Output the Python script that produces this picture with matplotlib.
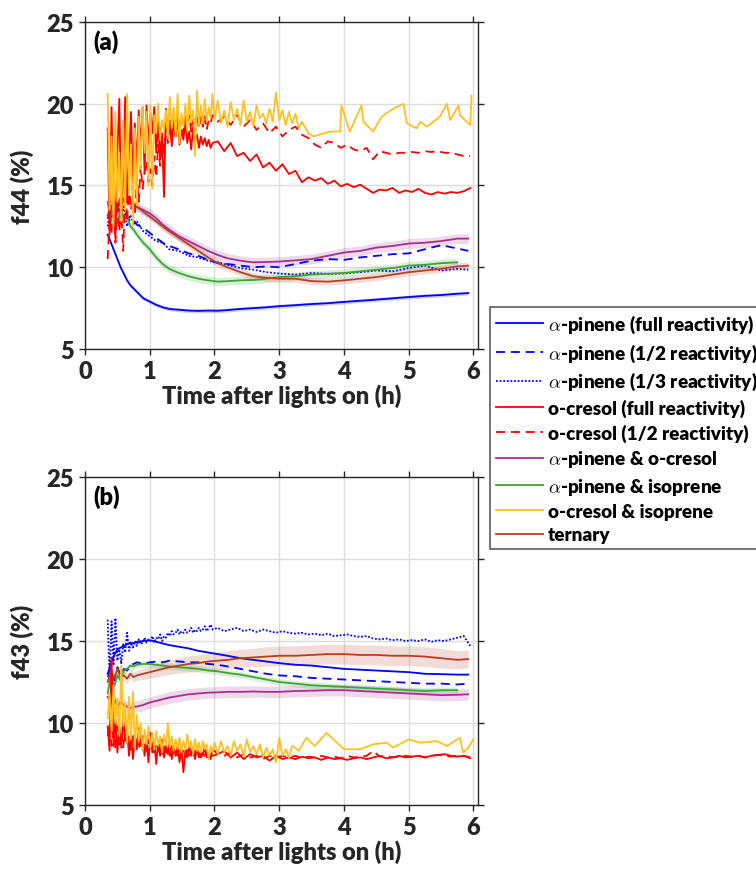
import matplotlib
matplotlib.use("Agg")
import matplotlib.pyplot as plt
from matplotlib.lines import Line2D

plt.rcParams['font.family'] = ['Lato', 'DejaVu Sans']
plt.rcParams['font.weight'] = 'bold'
plt.rcParams['mathtext.fontset'] = 'cm'

# ---------------- time grids (h) ----------------
T1 = [0.35, 0.40, 0.45, 0.50, 0.55, 0.60, 0.65, 0.70, 0.75, 0.80,
      0.90, 1.00, 1.10, 1.20, 1.30, 1.45, 1.60, 1.75, 1.90, 2.05,
      2.20, 2.40, 2.60, 2.80, 3.00, 3.25, 3.50, 3.75, 4.00, 4.25,
      4.50, 4.75, 5.00, 5.25, 5.50, 5.75, 5.92]
TD = [0.35, 0.38, 0.41, 0.44, 0.47, 0.50, 0.53, 0.56, 0.59, 0.62,
      0.65, 0.68, 0.71, 0.74, 0.77, 0.80, 0.83, 0.86, 0.89, 0.92,
      0.95, 0.98, 1.01, 1.04, 1.07, 1.10, 1.13, 1.16, 1.19, 1.22,
      1.25, 1.28, 1.31, 1.34, 1.37, 1.40, 1.43, 1.46, 1.49, 1.52,
      1.55, 1.58, 1.61, 1.64, 1.67, 1.70, 1.73, 1.76, 1.79, 1.82,
      1.85, 1.88, 1.91, 1.94, 1.97]
TL = [2.05, 2.15, 2.25, 2.35, 2.45, 2.55, 2.65, 2.75, 2.85, 2.95,
      3.05, 3.15, 3.25, 3.35, 3.45, 3.55, 3.65, 3.75, 3.85, 3.95,
      4.05, 4.15, 4.25, 4.35, 4.45, 4.55, 4.65, 4.75, 4.85, 4.95,
      5.05, 5.15, 5.25, 5.35, 5.45, 5.55, 5.65, 5.75, 5.85, 5.95]
T_ISO_A = [2.00, 2.05, 2.10, 2.15, 2.20, 2.25, 2.30, 2.35, 2.40, 2.45,
           2.50, 2.55, 2.60, 2.65, 2.70, 2.75, 2.80, 2.85, 2.90, 2.95,
           3.00, 3.05, 3.10, 3.15, 3.20, 3.25, 3.30, 3.35, 3.45, 3.53,
           3.78, 3.94, 3.96, 4.09, 4.27, 4.30, 4.45, 4.58, 4.76, 4.92,
           4.97, 5.12, 5.18, 5.28, 5.48, 5.59, 5.64, 5.77, 5.79, 5.95,
           5.97]
T_ISO_B = [2.00, 2.05, 2.10, 2.15, 2.20, 2.25, 2.30, 2.35, 2.40, 2.45,
           2.50, 2.55, 2.60, 2.65, 2.70, 2.75, 2.80, 2.85, 2.90, 2.95,
           3.00, 3.05, 3.10, 3.15, 3.20,
           3.30, 3.42, 3.55, 3.73, 4.00, 4.25, 4.45, 4.66, 4.76, 5.00,
           5.18, 5.43, 5.59, 5.79, 5.84, 5.92, 6.00]

# ---------------- panel (a): f44 (%) ----------------
a_ap_full = [12.0, 11.5, 11.0, 10.5, 10.0, 9.6, 9.2, 8.9, 8.7, 8.5,
             8.1, 7.9, 7.7, 7.55, 7.45, 7.4, 7.35, 7.33, 7.35, 7.34,
             7.38, 7.45, 7.5, 7.55, 7.62, 7.68, 7.75, 7.8, 7.88, 7.95,
             8.02, 8.1, 8.18, 8.25, 8.3, 8.38, 8.42]
a_ap_half = [13.0, 13.6, 13.3, 13.8, 13.2, 13.5, 13.1, 12.8, 12.9, 12.6,
             12.4, 12.1, 11.8, 11.5, 11.3, 11.1, 10.85, 10.7, 10.45, 10.25,
             10.2, 10.1, 10.0, 10.05, 10.0, 10.2, 10.4, 10.5, 10.45, 10.6,
             10.7, 10.8, 10.85, 11.1, 11.35, 11.15, 11.0]
a_ap_third = [12.5, 13.8, 12.9, 14.0, 13.0, 13.7, 12.5, 13.2, 12.6, 12.8,
              12.2, 11.9, 11.6, 11.5, 11.1, 11.0, 10.7, 10.6, 10.4, 10.3,
              10.15, 9.95, 9.85, 9.7, 9.62, 9.55, 9.65, 9.6, 9.62, 9.7,
              9.8, 9.75, 9.95, 10.1, 9.8, 9.9, 9.85]
a_ap_oc = [13.0, 13.8, 13.2, 14.1, 13.7, 14.2, 14.0, 13.9, 13.8, 13.7,
           13.5, 13.3, 13.0, 12.6, 12.3, 11.9, 11.6, 11.3, 11.0, 10.75,
           10.55, 10.4, 10.3, 10.32, 10.35, 10.42, 10.5, 10.7, 10.9, 11.0,
           11.2, 11.3, 11.45, 11.5, 11.6, 11.75, 11.75]
a_ap_iso = [14.0, 12.8, 13.9, 12.7, 13.6, 12.9, 13.2, 12.5, 12.3, 12.0,
            11.5, 11.1, 10.6, 10.2, 9.9, 9.65, 9.45, 9.3, 9.2, 9.12,
            9.15, 9.2, 9.22, 9.3, 9.4, 9.45, 9.55, 9.6, 9.65, 9.75,
            9.85, 9.95, 10.1, 10.15, 10.25, 10.3]
a_tern = [13.2, 13.6, 14.0, 13.7, 14.3, 14.1, 14.0, 13.9, 13.8, 13.7,
          13.4, 13.1, 12.8, 12.5, 12.2, 11.8, 11.4, 11.0, 10.6, 10.25,
          10.0, 9.7, 9.45, 9.35, 9.3, 9.3, 9.15, 9.12, 9.2, 9.3,
          9.4, 9.55, 9.7, 9.8, 9.9, 10.05, 10.1]
a_oc_full = [18.5, 12.0, 19.8, 13.5, 11.8, 17.0, 20.3, 13.0, 15.5, 20.4,
             14.0, 16.5, 19.5, 15.0, 18.8, 16.0, 19.6, 17.2, 19.8, 15.8,
             19.9, 17.5, 19.4, 18.2, 19.8, 17.0, 18.9, 16.6, 18.2, 14.3,
             19.7, 17.9, 18.8, 17.4, 19.0, 18.0, 19.3, 17.5, 18.4, 17.8,
             18.9, 17.6, 18.3, 17.2, 18.6, 17.7, 18.1, 17.3, 18.0, 17.5,
             17.9, 17.4, 17.8, 17.3, 17.6,
             17.7, 17.1, 17.6, 16.8, 17.0, 16.5, 16.9, 16.1, 16.4, 15.9,
             16.3, 15.7, 15.9, 15.2, 15.5, 15.3, 15.45, 15.1, 15.3, 14.95,
             15.1, 14.9, 15.05, 14.8, 14.55, 14.75, 14.7, 14.85, 14.55, 14.7,
             14.6, 14.8, 14.55, 14.45, 14.6, 14.5, 14.6, 14.55, 14.65, 14.85]
a_oc_half = [10.5, 13.0, 12.0, 15.5, 11.5, 14.0, 12.2, 13.5, 11.0, 14.5,
             12.8, 15.0, 13.5, 14.2, 13.2, 15.5, 14.0, 16.2, 14.8, 15.8,
             16.5, 15.2, 16.0, 15.0, 16.8, 15.5, 17.5, 16.2, 18.0, 17.0,
             18.6, 17.6, 19.0, 18.1, 19.2, 17.8, 19.4, 18.4, 19.0, 18.2,
             19.5, 18.6, 19.3, 18.3, 19.1, 18.7, 19.4, 18.5, 19.2, 18.6,
             19.3, 18.4, 19.0, 18.8, 19.3,
             18.9, 19.2, 18.7, 19.3, 18.6, 19.0, 18.4, 18.8, 18.2, 18.6,
             18.0, 18.4, 18.6, 18.1, 17.9, 17.5, 17.3, 17.7, 17.6, 17.3,
             17.5, 17.2, 17.1, 17.3, 16.6, 17.1, 17.0, 16.9, 17.0, 17.0,
             17.05, 17.0, 17.1, 17.05, 17.1, 17.0, 17.0, 16.9, 16.8, 16.8]
a_oc_iso = [20.6, 13.5, 18.0, 12.5, 19.5, 14.0, 17.0, 12.8, 19.0, 13.5,
            20.6, 14.5, 17.5, 12.5, 18.5, 13.8, 19.2, 16.0, 19.8, 17.0,
            19.5, 15.0, 19.9, 14.8, 19.3, 18.2, 20.0, 17.8, 19.0, 18.4,
            19.6, 17.9, 20.4, 18.5, 19.8, 18.0, 20.6, 17.6, 19.4, 18.6,
            20.0, 18.3, 20.5, 18.9, 19.6, 16.8, 20.8, 18.7, 19.9, 18.8,
            20.3, 18.9, 19.8, 19.1, 20.6,
            19.0, 20.2, 18.8, 19.6, 18.6, 20.1, 19.0, 19.7, 18.7, 20.2,
            18.9, 19.5, 18.6, 19.9, 19.1, 19.4, 18.8, 19.7, 18.9, 20.7,
            19.0, 19.6, 18.7, 19.5, 18.8, 19.4, 18.5, 18.9, 18.2, 18.0,
            18.3, 18.3, 19.9, 18.3, 19.9, 18.9, 18.3, 19.2, 19.7, 20.0,
            18.8, 18.5, 18.9, 18.6, 19.2, 20.0, 19.0, 19.9, 19.3, 18.7,
            20.5]
a_sd_ap_full = 0.12
a_sd_ap_oc = 0.30
a_sd_ap_iso = 0.25
a_sd_tern = 0.22

# ---------------- panel (b): f43 (%) ----------------
b_ap_full = [13.0, 13.6, 14.1, 14.5, 14.6, 14.7, 14.8, 14.9, 14.85, 14.95,
             15.0, 15.05, 14.95, 14.85, 14.75, 14.65, 14.55, 14.4, 14.3, 14.2,
             14.1, 13.95, 13.85, 13.75, 13.65, 13.55, 13.5, 13.4, 13.3, 13.25,
             13.2, 13.15, 13.1, 13.0, 12.98, 12.95, 12.95]
b_ap_half = [12.8, 13.2, 12.6, 13.4, 12.9, 13.3, 13.2, 13.5, 13.6, 13.7,
             13.6, 13.7, 13.75, 13.7, 13.8, 13.75, 13.7, 13.7, 13.6, 13.55,
             13.45, 13.3, 13.15, 13.0, 12.9, 12.85, 12.75, 12.7, 12.65, 12.6,
             12.55, 12.5, 12.45, 12.4, 12.4, 12.35, 12.4]
b_ap_third = [16.3, 12.8, 16.2, 13.5, 16.4, 13.8, 14.5, 13.6, 14.8, 14.3,
              15.5, 14.4, 14.9, 14.6, 15.0, 14.7, 15.1, 14.8, 14.9, 15.2,
              14.9, 15.1, 15.0, 15.3, 14.9, 15.2, 15.1, 15.4, 15.0, 15.3,
              15.2, 15.5, 15.3, 15.6, 15.4, 15.5, 15.7, 15.4, 15.6, 15.5,
              15.7, 15.5, 15.6, 15.8, 15.5, 15.7, 15.6, 15.8, 15.6, 15.7,
              15.9, 15.6, 15.8, 16.0, 15.7,
              15.8, 15.6, 15.7, 15.8, 15.6, 15.7, 15.55, 15.7, 15.6, 15.5,
              15.6, 15.5, 15.45, 15.5, 15.4, 15.45, 15.35, 15.45, 15.3, 15.35,
              15.4, 15.3, 15.25, 15.3, 15.15, 15.1, 15.15, 15.05, 15.1, 15.0,
              15.05, 15.0, 15.1, 14.95, 15.05, 15.0, 15.1, 15.2, 15.3, 14.7]
b_ap_oc = [11.6, 11.2, 11.5, 11.0, 11.3, 11.1, 11.0, 10.9, 11.0, 11.0,
           11.1, 11.25, 11.35, 11.45, 11.55, 11.65, 11.75, 11.8, 11.85, 11.87,
           11.9, 11.9, 11.92, 11.9, 11.9, 11.95, 11.97, 12.0, 12.0, 11.95,
           11.9, 11.85, 11.8, 11.75, 11.7, 11.72, 11.75]
b_ap_iso = [11.8, 13.0, 12.2, 12.9, 12.6, 13.2, 13.3, 13.5, 13.45, 13.55,
            13.6, 13.6, 13.55, 13.5, 13.45, 13.4, 13.35, 13.3, 13.2, 13.15,
            13.05, 12.95, 12.8, 12.65, 12.5, 12.4, 12.3, 12.25, 12.2, 12.15,
            12.1, 12.05, 12.0, 11.95, 12.0, 12.0]
b_tern = [12.5, 13.2, 12.7, 13.3, 12.8, 12.9, 12.7, 13.0, 12.8, 12.9,
          13.0, 13.1, 13.2, 13.3, 13.4, 13.5, 13.6, 13.65, 13.75, 13.8,
          13.85, 13.95, 14.0, 14.05, 14.1, 14.1, 14.15, 14.2, 14.2, 14.15,
          14.15, 14.1, 14.1, 14.05, 13.95, 13.85, 13.9]
b_sd_tern = [0.3, 0.3, 0.3, 0.3, 0.3, 0.3, 0.3, 0.3, 0.3, 0.3,
             0.35, 0.35, 0.4, 0.4, 0.45, 0.45, 0.5, 0.5, 0.5, 0.55,
             0.55, 0.55, 0.55, 0.6, 0.6, 0.6, 0.6, 0.6, 0.6, 0.6,
             0.6, 0.6, 0.6, 0.6, 0.6, 0.55, 0.55]
b_oc_full = [9.8, 8.3, 14.0, 8.6, 10.2, 8.2, 9.8, 8.5, 10.4, 8.9,
             9.6, 8.0, 9.3, 7.8, 9.0, 8.4, 9.7, 8.6, 9.2, 8.0,
             9.0, 7.6, 9.4, 8.2, 8.9, 7.5, 8.8, 8.0, 9.0, 7.9,
             8.6, 8.1, 8.9, 7.8, 8.5, 8.0, 8.7, 7.6, 8.4, 7.0,
             8.3, 7.9, 8.6, 8.0, 8.4, 7.8, 8.5, 7.9, 8.3, 8.0,
             8.6, 7.9, 8.2, 7.8, 8.4,
             8.1, 8.3, 7.9, 8.2, 7.8, 8.1, 7.9, 8.0, 7.7, 8.0,
             7.8, 7.9, 7.8, 7.95, 7.85, 7.9, 7.75, 7.9, 7.8, 7.85,
             7.75, 7.85, 7.9, 7.8, 7.9, 8.0, 7.85, 7.9, 8.0, 7.9,
             7.95, 8.0, 7.9, 8.0, 8.05, 8.1, 8.0, 7.95, 8.0, 7.85]
b_oc_half = [9.2, 10.0, 8.6, 9.5, 8.4, 9.8, 8.7, 9.3, 8.5, 9.6,
             8.8, 9.2, 8.3, 9.4, 8.6, 9.0, 8.4, 9.1, 8.5, 8.9,
             8.3, 9.0, 8.4, 8.8, 8.2, 8.7, 8.3, 8.8, 8.1, 8.6,
             8.2, 8.5, 8.0, 8.6, 8.2, 8.4, 8.0, 8.5, 8.1, 8.3,
             7.9, 8.4, 8.0, 8.3, 7.9, 8.3, 8.0, 8.2, 7.9, 8.3,
             8.0, 8.2, 7.9, 8.1, 8.0,
             8.1, 8.0, 8.2, 7.9, 8.1, 7.9, 8.0, 7.8, 8.0, 7.9,
             8.0, 7.9, 8.0, 7.85, 7.95, 7.9, 8.0, 7.9, 7.95, 7.85,
             8.0, 7.9, 7.95, 8.0, 8.3, 7.95, 8.0, 7.9, 7.95, 8.0,
             7.95, 8.0, 7.9, 8.0, 8.05, 8.0, 7.95, 8.0, 8.0, 7.9]
b_oc_iso = [10.3, 11.8, 9.5, 12.3, 10.0, 11.5, 9.2, 13.5, 9.8, 11.2,
            8.8, 11.6, 9.0, 11.9, 8.5, 10.5, 8.9, 10.0, 8.3, 9.6,
            8.7, 9.8, 8.5, 9.4, 8.4, 9.5, 8.6, 9.2, 8.2, 9.3,
            8.6, 10.0, 8.5, 9.2, 8.3, 9.0, 8.4, 9.1, 8.2, 8.9,
            8.4, 9.3, 8.5, 8.9, 8.1, 9.0, 8.3, 8.8, 8.2, 8.9,
            8.4, 8.7, 7.8, 8.6, 8.2,
            8.8, 8.1, 8.9, 8.2, 8.6, 8.0, 8.9, 8.3, 8.7, 8.0,
            9.0, 8.2, 8.6, 8.1, 8.7, 7.9, 8.5, 8.0, 8.4, 7.6,
            9.1, 8.0, 8.4, 7.9, 8.6,
            8.3, 9.1, 8.6, 9.4, 8.4, 8.4, 8.7, 8.8, 8.5, 9.0,
            8.8, 8.9, 8.6, 9.1, 8.2, 8.5, 9.0]
b_sd_ap_oc = 0.35
b_sd_ap_iso = 0.2

labels = [r'$\alpha$-pinene (full reactivity)',
          r'$\alpha$-pinene (1/2 reactivity)',
          r'$\alpha$-pinene (1/3 reactivity)',
          'o-cresol (full reactivity)',
          'o-cresol (1/2 reactivity)',
          r'$\alpha$-pinene & o-cresol',
          r'$\alpha$-pinene & isoprene',
          'o-cresol & isoprene',
          'ternary']

C_BLUE = '#0000FF'
C_RED = '#FF0000'
C_PURPLE = '#A23190'
C_GREEN = '#3CA532'
C_YELLOW = '#FFC022'
C_BROWN = '#B83E26'
DASH = (0, (5, 3.2))
DOT = (0, (1, 1))
LW = 1.3
TXT = '#262626'
FW = 'heavy'

fig = plt.figure(figsize=(7.56, 8.78), dpi=100)
ax_a = fig.add_axes([85 / 756, 1 - 350 / 878, 393 / 756, 327 / 878])
ax_b = fig.add_axes([85 / 756, 1 - 806 / 878, 393 / 756, 328 / 878])

TDL = TD + TL


def band(ax, t, y, sd, color):
    if isinstance(sd, (int, float)):
        sd = [sd] * len(y)
    lo = [v - s for v, s in zip(y, sd)]
    hi = [v + s for v, s in zip(y, sd)]
    ax.fill_between(t, lo, hi, color=color, alpha=0.18, linewidth=0)


# ----- panel a -----
ax = ax_a
band(ax, T1, a_ap_full, a_sd_ap_full, C_BLUE)
band(ax, T1, a_ap_oc, a_sd_ap_oc, C_PURPLE)
band(ax, T1[:-1], a_ap_iso, a_sd_ap_iso, C_GREEN)
band(ax, T1, a_tern, a_sd_tern, C_BROWN)
ax.plot(T1, a_ap_full, color=C_BLUE, lw=LW)
ax.plot(T1, a_ap_half, color=C_BLUE, lw=LW, linestyle=DASH)
ax.plot(T1, a_ap_third, color=C_BLUE, lw=LW, linestyle=DOT)
ax.plot(T1, a_ap_oc, color=C_PURPLE, lw=LW)
ax.plot(T1[:-1], a_ap_iso, color=C_GREEN, lw=LW)
ax.plot(T1, a_tern, color=C_BROWN, lw=LW)
ax.plot(TDL, a_oc_full, color=C_RED, lw=LW)
ax.plot(TDL, a_oc_half, color=C_RED, lw=LW, linestyle=DASH)
ax.plot(TD + T_ISO_A, a_oc_iso, color=C_YELLOW, lw=LW)

# ----- panel b -----
ax = ax_b
band(ax, T1, b_tern, b_sd_tern, C_BROWN)
band(ax, T1, b_ap_oc, b_sd_ap_oc, C_PURPLE)
band(ax, T1[:-1], b_ap_iso, b_sd_ap_iso, C_GREEN)
ax.plot(T1, b_ap_full, color=C_BLUE, lw=LW)
ax.plot(T1, b_ap_half, color=C_BLUE, lw=LW, linestyle=DASH)
ax.plot(TDL, b_ap_third, color=C_BLUE, lw=LW, linestyle=DOT)
ax.plot(T1, b_ap_oc, color=C_PURPLE, lw=LW)
ax.plot(T1[:-1], b_ap_iso, color=C_GREEN, lw=LW)
ax.plot(T1, b_tern, color=C_BROWN, lw=LW)
ax.plot(TDL, b_oc_full, color=C_RED, lw=LW)
ax.plot(TDL, b_oc_half, color=C_RED, lw=LW, linestyle=DASH)
ax.plot(TD + T_ISO_B, b_oc_iso, color=C_YELLOW, lw=LW)

for ax, ylab, tag in [(ax_a, 'f44 (%)', '(a)'), (ax_b, 'f43 (%)', '(b)')]:
    ax.set_xlim(0, 6.07)
    ax.set_ylim(5, 25)
    ax.set_xticks([0, 1, 2, 3, 4, 5, 6])
    ax.set_yticks([5, 10, 15, 20, 25])
    ax.grid(True, color='#DCDCDC', lw=1.0)
    ax.set_axisbelow(True)
    ax.tick_params(direction='out', length=4, width=1, top=True, right=True,
                   labelsize=17, colors=TXT, pad=4)
    for lab in ax.get_xticklabels() + ax.get_yticklabels():
        lab.set_fontweight(FW)
    for s in ax.spines.values():
        s.set_color('#262626')
        s.set_linewidth(1.0)
    ax.set_xlabel('Time after lights on (h)', fontsize=17, fontweight=FW,
                  color=TXT, labelpad=1)
    ax.set_ylabel(ylab, fontsize=17, fontweight=FW, color=TXT, labelpad=9)
    ax.text(0.022, 0.978, tag, transform=ax.transAxes, ha='left', va='top',
            fontsize=17, fontweight=FW, color='black')

handles = [Line2D([], [], color=C_BLUE, lw=LW),
           Line2D([], [], color=C_BLUE, lw=LW, linestyle=DASH),
           Line2D([], [], color=C_BLUE, lw=LW, linestyle=DOT),
           Line2D([], [], color=C_RED, lw=LW),
           Line2D([], [], color=C_RED, lw=LW, linestyle=DASH),
           Line2D([], [], color=C_PURPLE, lw=LW),
           Line2D([], [], color=C_GREEN, lw=LW),
           Line2D([], [], color=C_YELLOW, lw=LW),
           Line2D([], [], color=C_BROWN, lw=LW)]
leg = fig.legend(handles, labels, loc='upper left',
                 bbox_to_anchor=(490 / 756, 1 - 308 / 878),
                 bbox_transform=fig.transFigure,
                 frameon=True, fancybox=False, edgecolor='#333333',
                 prop={'size': 13.6, 'weight': FW},
                 handlelength=2.5, handletextpad=0.25, labelspacing=0.34,
                 borderpad=0.3, borderaxespad=0)
leg.get_frame().set_linewidth(1.2)
for t in leg.get_texts():
    t.set_color('black')

fig.savefig('out.png', dpi=100)
